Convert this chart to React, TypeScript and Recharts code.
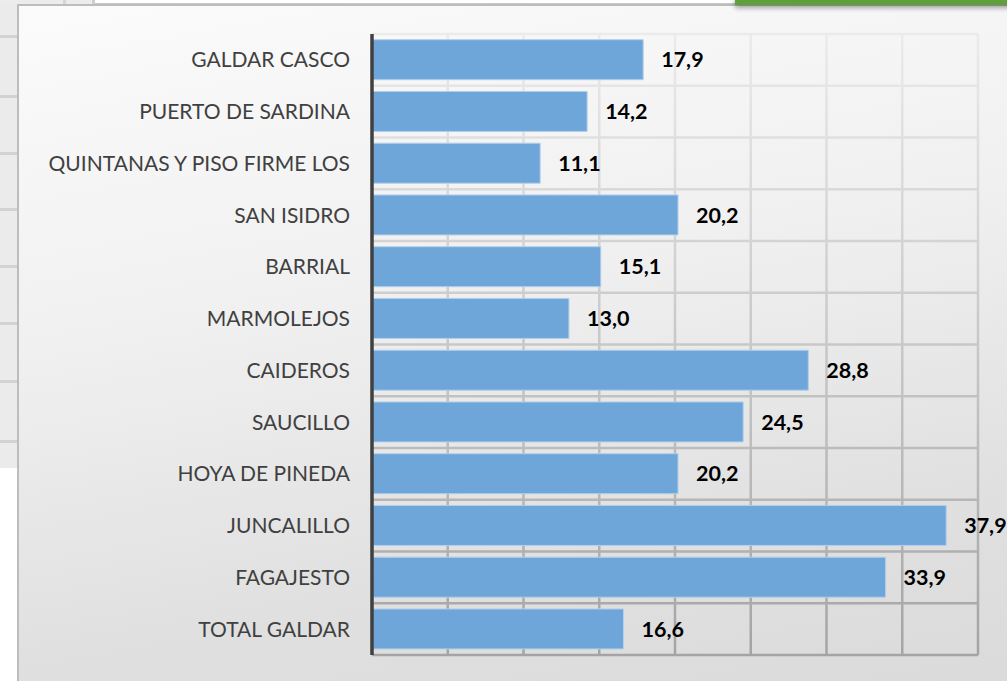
import React from 'react';
import { BarChart, Bar, XAxis, YAxis, CartesianGrid, LabelList } from 'recharts';

// barrios de Gáldar, valor por zona
const categories = [
  'GALDAR CASCO',
  'PUERTO DE SARDINA',
  'QUINTANAS Y PISO FIRME LOS',
  'SAN ISIDRO',
  'BARRIAL',
  'MARMOLEJOS',
  'CAIDEROS',
  'SAUCILLO',
  'HOYA DE PINEDA',
  'JUNCALILLO',
  'FAGAJESTO',
  'TOTAL GALDAR',
];
const values = [17.9, 14.2, 11.1, 20.2, 15.1, 13.0, 28.8, 24.5, 20.2, 37.9, 33.9, 16.6];
const xTicks = [0, 5, 10, 15, 20, 25, 30, 35, 40];
const xMax = 40;

const data = categories.map((name, i) => ({ name, value: values[i] }));

const fmt = (v: any) => Number(v).toFixed(1).replace('.', ',');

const leftCellLines = [35, 95, 152, 208, 265, 322, 380, 440];

export default function App() {
  return (
    <div style={{ position: 'absolute', left: 0, top: 0, width: 1007, height: 681, overflow: 'hidden', background: '#fff' }}>
      {/* spreadsheet bits behind the chart */}
      <div style={{ position: 'absolute', left: 0, top: 0, width: 20, height: 468, background: '#ebebeb' }} />
      {leftCellLines.map((y) => (
        <div key={y} style={{ position: 'absolute', left: 0, top: y, width: 20, height: 3, background: '#d2d2d2' }} />
      ))}
      <div style={{ position: 'absolute', left: 0, top: 0, width: 95, height: 5, background: '#ececec' }} />
      <div style={{ position: 'absolute', left: 63, top: 0, width: 3, height: 5, background: '#d6d6d6' }} />
      <div style={{ position: 'absolute', left: 92, top: 0, width: 3, height: 5, background: '#cfcfcf' }} />
      <div style={{ position: 'absolute', left: 95, top: 3, width: 640, height: 2, background: '#c8c8c8' }} />
      <div
        style={{
          position: 'absolute', left: 17, top: 4, width: 1010, height: 700,
          border: '2px solid #bdbdbd', boxSizing: 'border-box',
          background: 'linear-gradient(170deg, #fbfbfb 0%, #f0f0f0 40%, #e0e0e0 75%, #dadada 100%)',
        }}
      />
      <div
        style={{
          position: 'absolute', left: 735, top: -4, width: 290, height: 9,
          background: '#5fa03a', boxShadow: '0 3px 5px rgba(0,0,0,0.35)',
        }}
      />
      <div style={{ position: 'absolute', left: 0, top: 0 }}>
        <BarChart
          width={1007}
          height={681}
          data={data}
          layout="vertical"
          margin={{ top: 34, right: 29, bottom: 26, left: 0 }}
          barCategoryGap="11%"
        >
          <defs>
            <linearGradient id="gridGrad" x1="0" y1="34" x2="0" y2="655" gradientUnits="userSpaceOnUse">
              <stop offset="0%" stopColor="#ebebeb" />
              <stop offset="100%" stopColor="#a4a4a4" />
            </linearGradient>
          </defs>
          <CartesianGrid
            stroke="url(#gridGrad)"
            strokeWidth={2.5}
            horizontalCoordinatesGenerator={({ offset }: any) =>
              categories.concat('').map((_, i) => offset.top + (i * offset.height) / categories.length)
            }
            verticalCoordinatesGenerator={({ offset }: any) =>
              xTicks.map((t) => offset.left + (offset.width * t) / xMax)
            }
          />
          <XAxis type="number" domain={[0, xMax]} ticks={xTicks} hide />
          <YAxis
            type="category"
            dataKey="name"
            width={372}
            tickLine={false}
            tickSize={0}
            tickMargin={22}
            axisLine={{ stroke: '#404040', strokeWidth: 3.5 }}
            tick={{ fill: '#404040', fontSize: 21, fontFamily: 'Lato, sans-serif' }}
            interval={0}
          />
          <Bar dataKey="value" fill="#6fa6da" stroke="#b3cfeb" strokeWidth={1} isAnimationActive={false}>
            <LabelList
              dataKey="value"
              position="right"
              offset={18}
              formatter={fmt}
              style={{ fill: '#000', fontWeight: 700, fontSize: 21.5, fontFamily: 'Lato, sans-serif' }}
            />
          </Bar>
        </BarChart>
      </div>
    </div>
  );
}
